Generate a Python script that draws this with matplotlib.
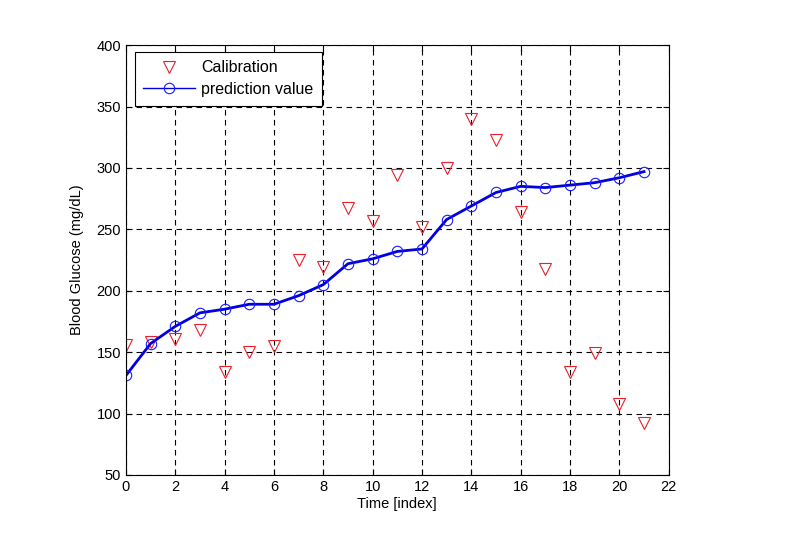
import matplotlib
matplotlib.use("Agg")
import matplotlib.pyplot as plt

time_idx = list(range(22))
calibration = [156, 158, 161, 168, 134, 150, 155, 225, 219, 267, 257, 294, 252, 300,
               340, 323, 264, 218, 134, 149, 108, 92]
prediction = [131, 157, 171, 182, 185, 189, 189, 196, 205, 222, 226, 232, 234, 258,
              269, 280, 285, 284, 286, 288, 292, 297]

plt.rcParams['font.family'] = ['Liberation Sans', 'DejaVu Sans']

fig = plt.figure(figsize=(7.97, 5.37), dpi=100)
ax = fig.add_axes([0.158, 0.1155, 0.681, 0.8005])

ax.plot(time_idx, calibration, linestyle='none', marker='v', markersize=9,
        markerfacecolor='none', markeredgecolor='#e8202a', markeredgewidth=0.8,
        label='Calibration')
ax.plot(time_idx, prediction, color='#0000e0', linewidth=2.0, marker='o', markersize=7.5,
        markerfacecolor='none', markeredgecolor='#1a1aff', markeredgewidth=0.8,
        label='prediction value')

ax.set_xlim(0, 22)
ax.set_ylim(50, 400)
ax.set_xticks(range(0, 23, 2))
ax.set_yticks(range(50, 401, 50))
ax.grid(True, color='black', linestyle=(0, (5, 4)), linewidth=0.8)
ax.tick_params(direction='in', top=True, right=True, labelsize=10.5, length=4)
for s in ax.spines.values():
    s.set_linewidth(0.8)

ax.set_xlabel('Time [index]', fontsize=10.5, labelpad=2)
ax.set_ylabel('Blood Glucose (mg/dL)', fontsize=10.5, labelpad=9)

leg = ax.legend(loc='upper left', bbox_to_anchor=(0.016, 0.985), fontsize=11.5,
                fancybox=False, edgecolor='black', framealpha=1,
                handlelength=3.2, handletextpad=0.4, borderpad=0.55, labelspacing=0.42,
                borderaxespad=0)
leg.get_frame().set_linewidth(0.8)
leg.get_lines()[1].set_linewidth(1.0)

fig.savefig('out.png', dpi=100)
